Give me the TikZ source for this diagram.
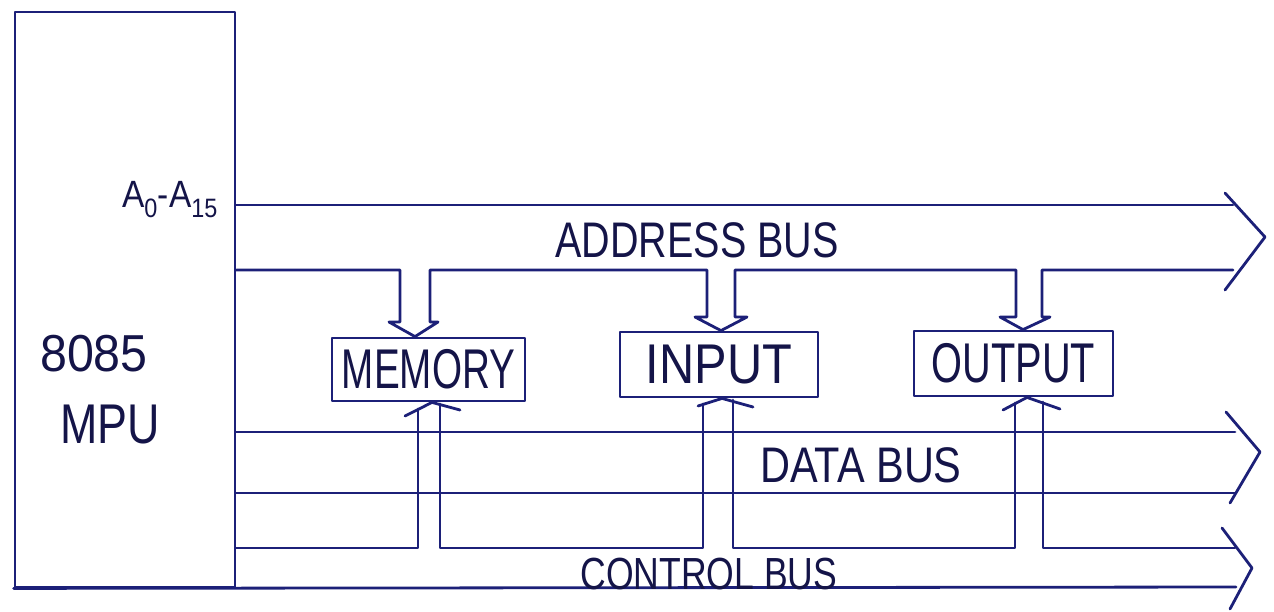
\documentclass[tikz,border=0pt]{standalone}
\usepackage{fontspec}
\setmainfont{Liberation Sans}
\definecolor{ink}{RGB}{28,32,120}
\definecolor{txt}{RGB}{20,20,72}
\newcommand{\hw}[3]{\fontsize{#1}{#1}\selectfont\scalebox{#2}[1]{#3}}
\begin{document}
\begin{tikzpicture}[x=1pt,y=-1pt,line join=round,line cap=round,
  bus/.style={draw=ink,line width=2.8pt},
  unit/.style={draw=ink,line width=2.8pt,inner sep=0pt,text=txt},
  lbl/.style={text=txt,inner sep=0pt}]
\useasboundingbox (0,0) rectangle (1274,611);

% MPU
\node[unit,minimum width=220pt,minimum height=575pt] (mpu) at (125,299.5) {};
\node[lbl] (m1) at (94,354) {\hw{52}{0.93}{8085}};
\node[lbl] (m2) at (110,425) {\hw{56}{0.8}{MPU}};
\node[lbl] (addr) at (170,200) {\hw{38}{0.88}{A\textsubscript{0}-A\textsubscript{15}}};

% units
\node[unit,minimum width=193pt,minimum height=63pt] (mem) at (428.5,369.5) {\hw{56}{0.69}{MEMORY}};
\node[unit,minimum width=198pt,minimum height=65pt] (inp) at (719,364.5) {\hw{56}{0.87}{INPUT}\hspace{38pt}};
\node[unit,minimum width=199pt,minimum height=65pt] (outp) at (1013.5,363.5) {\hw{56}{0.71}{OUTPUT}\hspace{15pt}};

% address bus
\coordinate (aTop) at (1233,205);
\draw[bus] (mpu.east |- aTop) -- (aTop);
\draw[bus] (mpu.east |- 0,270) -- (400,270) -- (400,322) -- (389,322) -- (415,0 |- mem.north) -- (438,322) -- (430,322)
  -- (430,270) -- (707,270) -- (707,317) -- (695,317) -- (721,0 |- inp.north) -- (747,317) -- (735,317)
  -- (735,270) -- (1016,270) -- (1016,317) -- (1000,317) -- (1023,0 |- outp.north) -- (1050,317) -- (1042,317)
  -- (1042,270) -- (1233,270);
\draw[bus] (1225,193) -- (1265,237) -- (1225,290);
\node[lbl] (abus) at (697,240) {\hw{50}{0.79}{ADDRESS BUS}};

% data bus
\draw[bus] (mpu.east |- 0,432) -- (1235,432);
\draw[bus] (mpu.east |- 0,493) -- (1235,493);
\draw[bus] (1226,412) -- (1260,452) -- (1230,503);
\node[lbl] (dbus) at (861,465) {\hw{50}{0.83}{DATA BUS}};

% control bus
\draw[bus] (mpu.east |- 0,548) -- (418,548) -- (418,409);
\draw[bus] (440,404) -- (440,548) -- (703,548) -- (703,404);
\draw[bus] (733,400) -- (733,548) -- (1015,548) -- (1015,403);
\draw[bus] (1043,402) -- (1043,548) -- (1235,548);
\draw[bus] (mpu.south west) -- (1236,587);
\draw[bus] (1222,528) -- (1252,568) -- (1230,609);
\node[lbl] (cbus) at (709,574) {\hw{45}{0.79}{CONTROL BUS}};

% upward arrowheads
\draw[bus] (405,416) -- (432,0 |- mem.south) -- (460,410);
\draw[bus] (698,406) -- (722,0 |- inp.south) -- (753,407);
\draw[bus] (1003,410) -- (1027,0 |- outp.south) -- (1060,409);
\end{tikzpicture}
\end{document}
